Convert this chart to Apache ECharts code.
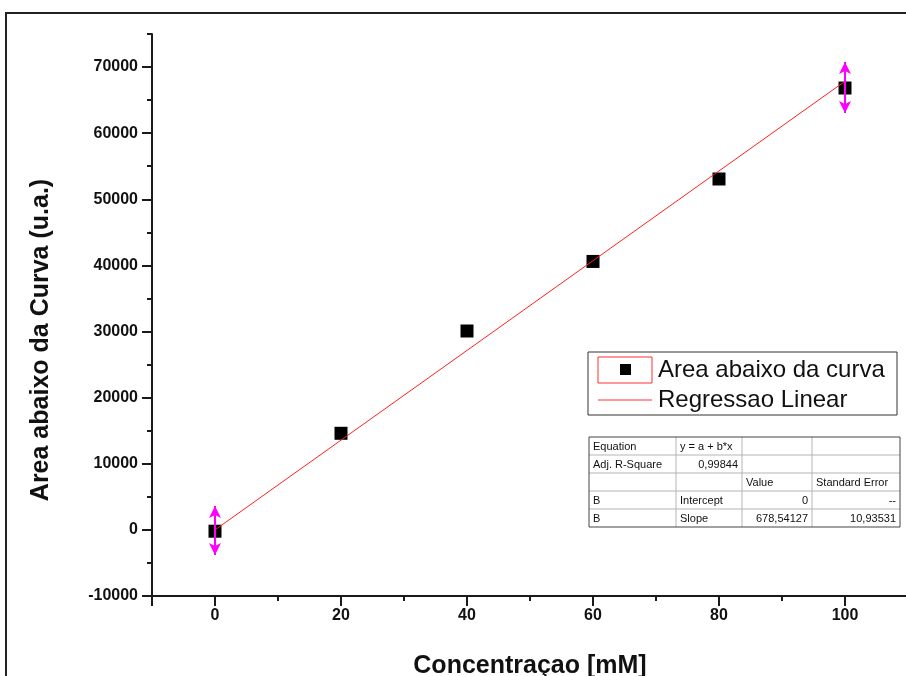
<!DOCTYPE html>
<html>
<head>
<meta charset="utf-8">
<script src="https://cdn.jsdelivr.net/npm/echarts@6/dist/echarts.min.js"></script>
<style>
  html, body { margin: 0; padding: 0; background: #fff; }
  #chart { width: 906px; height: 676px; }
</style>
</head>
<body>
<div id="chart"></div>
<script>
// ---- data ----
const concX = [0, 20, 40, 60, 80, 100];
const areaY = [-200, 14610, 30080, 40600, 53070, 66830];
const fitX = [0, 100];
const fitY = [0, 67854];
const arrowX = [0, 100];
const arrowLow = [-3800, 63050];
const arrowHigh = [3600, 70760];

const xMajorTicks = [-10, 0, 20, 40, 60, 80, 100, 110];
const xMinorTicks = [10, 30, 50, 70, 90];
const xLabels = [0, 20, 40, 60, 80, 100];
const yMajorTicks = [-10000, 0, 10000, 20000, 30000, 40000, 50000, 60000, 70000];
const yMinorTicks = [-5000, 5000, 15000, 25000, 35000, 45000, 55000, 65000, 75000];
const yLabels = [-10000, 0, 10000, 20000, 30000, 40000, 50000, 60000, 70000];

const seriesNames = ['Area abaixo da curva', 'Regressao Linear'];
const xTitle = 'Concentraçao [mM]';
const yTitle = 'Area abaixo da Curva (u.a.)';

const tableRows = [
  ['Equation', 'y = a + b*x', '', ''],
  ['Adj. R-Square', '0,99844', '', ''],
  ['', '', 'Value', 'Standard Error'],
  ['B', 'Intercept', '0', '--'],
  ['B', 'Slope', '678,54127', '10,93531']
];
const tableAlign = [
  ['left', 'left', 'left', 'left'],
  ['left', 'right', 'left', 'left'],
  ['left', 'left', 'left', 'left'],
  ['left', 'left', 'right', 'right'],
  ['left', 'left', 'right', 'right']
];

// ---- layout ----
const FONT = "'Liberation Sans', Arial, sans-serif";
const AX = '#1a1a1a';

const chart = echarts.init(document.getElementById('chart'), null, { renderer: 'canvas' });

function baseAxis(extra) {
  return Object.assign({
    type: 'value',
    splitLine: { show: false },
    axisLine: { show: true, onZero: false, lineStyle: { color: AX, width: 2 } }
  }, extra);
}

// table graphics
const colX = [589, 676, 742, 812, 900];
const rowY0 = 437, rowH = 18;
const tableEls = [];
tableEls.push({ type: 'rect', shape: { x: colX[0], y: rowY0, width: colX[4] - colX[0], height: rowH * tableRows.length },
  style: { fill: '#fff', stroke: 'none' } });
for (let r = 1; r < tableRows.length; r++) {
  tableEls.push({ type: 'line', shape: { x1: colX[0], y1: rowY0 + r * rowH, x2: colX[4], y2: rowY0 + r * rowH },
    style: { stroke: '#b5b5b5', lineWidth: 1 } });
}
for (let c = 1; c < 4; c++) {
  tableEls.push({ type: 'line', shape: { x1: colX[c], y1: rowY0, x2: colX[c], y2: rowY0 + rowH * tableRows.length },
    style: { stroke: '#b5b5b5', lineWidth: 1 } });
}
tableEls.push({ type: 'rect', shape: { x: colX[0], y: rowY0, width: colX[4] - colX[0], height: rowH * tableRows.length },
  style: { fill: 'none', stroke: '#444', lineWidth: 1 } });
tableRows.forEach((row, r) => {
  row.forEach((txt, c) => {
    if (!txt) return;
    const al = tableAlign[r][c];
    tableEls.push({ type: 'text', x: al === 'left' ? colX[c] + 4 : colX[c + 1] - 4, y: rowY0 + r * rowH + rowH / 2 + 1,
      style: { text: txt, fill: '#111', font: '11px ' + FONT, textAlign: al, textVerticalAlign: 'middle' } });
  });
});

const legendEls = [
  { type: 'rect', shape: { x: 588, y: 352, width: 309, height: 63 }, style: { fill: '#fff', stroke: '#333', lineWidth: 1 } },
  { type: 'rect', shape: { x: 598, y: 357, width: 54, height: 26 }, style: { fill: 'none', stroke: '#ff3030', lineWidth: 1 } },
  { type: 'rect', shape: { x: 620, y: 364, width: 11, height: 11 }, style: { fill: '#000' } },
  { type: 'text', x: 658, y: 370, style: { text: seriesNames[0], fill: '#111', font: '24px ' + FONT, textVerticalAlign: 'middle' } },
  { type: 'line', shape: { x1: 598, y1: 400, x2: 652, y2: 400 }, style: { stroke: '#ff3030', lineWidth: 1 } },
  { type: 'text', x: 658, y: 400, style: { text: seriesNames[1], fill: '#111', font: '24px ' + FONT, textVerticalAlign: 'middle' } }
];

const plainNum = v => String(v);

const option = {
  animation: false,
  backgroundColor: '#fff',
  textStyle: { fontFamily: FONT },
  grid: { left: 152, right: -2, top: 34, bottom: 80, containLabel: false, outerBoundsMode: 'none' },
  xAxis: [
    baseAxis({
      position: 'bottom',
      min: -10, max: 110,
      axisTick: { show: true, inside: false, length: 10, lineStyle: { color: AX, width: 2 }, customValues: xMajorTicks },
      axisLabel: { show: true, margin: 12, fontSize: 16, fontWeight: 'bold', color: '#111', fontFamily: FONT, customValues: xLabels, formatter: plainNum },
      name: xTitle, nameLocation: 'middle', nameGap: 58,
      nameTextStyle: { fontSize: 25, fontWeight: 'bold', color: '#111', fontFamily: FONT }
    }),
    baseAxis({
      position: 'bottom',
      min: -10, max: 110,
      axisLine: { show: false, onZero: false },
      axisTick: { show: true, length: 5, lineStyle: { color: AX, width: 2 }, customValues: xMinorTicks },
      axisLabel: { show: false }
    })
  ],
  yAxis: [
    baseAxis({
      position: 'left',
      min: -10000, max: 75000,
      axisTick: { show: true, inside: false, length: 10, lineStyle: { color: AX, width: 2 }, customValues: yMajorTicks },
      axisLabel: { show: true, margin: 14, fontSize: 16, fontWeight: 'bold', color: '#111', fontFamily: FONT, customValues: yLabels, formatter: plainNum },
      name: yTitle, nameLocation: 'middle', nameGap: 98,
      nameTextStyle: { fontSize: 25, fontWeight: 'bold', color: '#111', fontFamily: FONT, padding: [0, 50, 0, 0] }
    }),
    baseAxis({
      position: 'left',
      min: -10000, max: 75000,
      axisLine: { show: false, onZero: false },
      axisTick: { show: true, length: 5, lineStyle: { color: AX, width: 2 }, customValues: yMinorTicks },
      axisLabel: { show: false }
    })
  ],
  series: [
    {
      name: 'arrows', type: 'line', data: [], xAxisIndex: 0, yAxisIndex: 0, z: 1, silent: true,
      markLine: {
        silent: true, animation: false,
        symbol: ['arrow', 'arrow'], symbolSize: [9, 12],
        label: { show: false },
        lineStyle: { color: '#ff00ff', width: 2, type: 'solid' },
        emphasis: { disabled: true },
        data: arrowX.map((x, i) => [{ coord: [x, arrowLow[i]] }, { coord: [x, arrowHigh[i]] }])
      }
    },
    {
      name: seriesNames[0], type: 'scatter', xAxisIndex: 0, yAxisIndex: 0, z: 2,
      symbol: 'rect', symbolSize: 13,
      itemStyle: { color: '#000', opacity: 1 },
      data: concX.map((x, i) => [x, areaY[i]])
    },
    {
      name: seriesNames[1], type: 'line', xAxisIndex: 0, yAxisIndex: 0, z: 3,
      showSymbol: false, symbol: 'none',
      lineStyle: { color: '#ff2020', width: 1 },
      data: fitX.map((x, i) => [x, fitY[i]])
    }
  ],
  graphic: [
    { type: 'rect', z: 100, shape: { x: 6, y: 13, width: 940, height: 700 }, style: { fill: 'none', stroke: '#222', lineWidth: 2 } },
    { type: 'group', z: 100, children: legendEls },
    { type: 'group', z: 100, children: tableEls }
  ]
};

chart.setOption(option);
</script>
</body>
</html>
